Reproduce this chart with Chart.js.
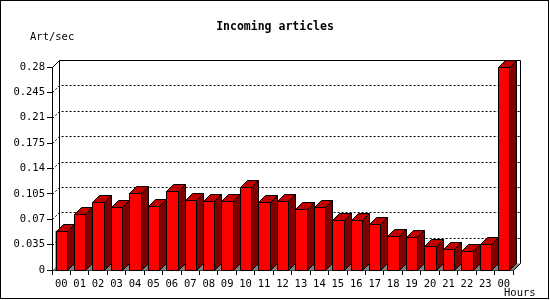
<!DOCTYPE html>
<html>
<head>
<meta charset="utf-8">
<style>
  html, body { margin: 0; padding: 0; background: #fff; }
  canvas { display: block; }
</style>
<script src="https://cdn.jsdelivr.net/npm/chart.js@4/dist/chart.umd.min.js"></script>
</head>
<body>
<canvas id="c" width="550" height="300"></canvas>
<script>
const hours = ['00','01','02','03','04','05','06','07','08','09','10','11','12','13','14','15','16','17','18','19','20','21','22','23','00'];
const artPerSec = [0.054, 0.077, 0.094, 0.087, 0.106, 0.088, 0.109, 0.0965, 0.095, 0.095, 0.1145, 0.094, 0.095, 0.084, 0.087, 0.069, 0.069, 0.0635, 0.047, 0.0455, 0.033, 0.029, 0.026, 0.036, 0.28];
const yTicks = [0, 0.035, 0.07, 0.105, 0.14, 0.175, 0.21, 0.245, 0.28];
const yTickLabels = ['0', '0.035', '0.07', '0.105', '0.14', '0.175', '0.21', '0.245', '0.28'];
const titleText = 'Incoming articles';
const yUnitText = 'Art/sec';
const xUnitText = 'Hours';

const DEPTH = 7;
const MONO = '"DejaVu Sans Mono", "Liberation Mono", monospace';

const threeD = {
  id: 'threeD',
  beforeDraw(chart) {
    const ctx = chart.ctx;
    ctx.save();
    ctx.fillStyle = '#ffffff';
    ctx.fillRect(0, 0, chart.width, chart.height);
    ctx.restore();
  },
  beforeDatasetsDraw(chart) {
    const ctx = chart.ctx;
    const a = chart.chartArea;
    const ys = chart.scales.y;
    const L = Math.round(a.left) + 0.5, R = Math.round(a.right) + 0.5;
    const T = Math.round(a.top) + 0.5, B = Math.round(a.bottom) + 0.5;
    const d = DEPTH;
    ctx.save();
    ctx.fillStyle = '#808080';
    ctx.beginPath();
    ctx.moveTo(L, B); ctx.lineTo(L + d, B - d); ctx.lineTo(R + d, B - d); ctx.lineTo(R, B);
    ctx.closePath(); ctx.fill();
    ctx.strokeStyle = '#000';
    ctx.lineWidth = 1;
    ctx.setLineDash([2, 2]);
    yTicks.forEach(v => {
      if (v === yTicks[0] || v === yTicks[yTicks.length - 1]) return;
      const y = Math.round(ys.getPixelForValue(v)) + 0.5;
      ctx.beginPath();
      ctx.moveTo(L, y); ctx.lineTo(L + d, y - d); ctx.lineTo(R + d, y - d);
      ctx.stroke();
    });
    ctx.setLineDash([]);
    ctx.beginPath();
    ctx.moveTo(L, T); ctx.lineTo(L + d, T - d); ctx.lineTo(R + d, T - d); ctx.lineTo(R + d, B - d); ctx.lineTo(R, B);
    ctx.moveTo(L + d, T - d); ctx.lineTo(L + d, B - d);
    ctx.stroke();
    ctx.restore();
  },
  afterDatasetsDraw(chart) {
    const ctx = chart.ctx;
    const meta = chart.getDatasetMeta(0);
    const d = DEPTH;
    ctx.save();
    ctx.strokeStyle = '#000';
    ctx.lineWidth = 1;
    meta.data.forEach(el => {
      const p = el.getProps(['x', 'y', 'base', 'width'], true);
      const l = Math.round(p.x - p.width / 2) + 0.5;
      const r = Math.round(p.x + p.width / 2) + 0.5;
      const t = Math.round(p.y) + 0.5;
      const b = Math.round(p.base) + 0.5;
      // front face
      ctx.fillStyle = '#ff0000';
      ctx.beginPath();
      ctx.rect(l, t, r - l, b - t);
      ctx.fill(); ctx.stroke();
      // top face
      ctx.fillStyle = '#c00000';
      ctx.beginPath();
      ctx.moveTo(l, t); ctx.lineTo(l + d, t - d); ctx.lineTo(r + d, t - d); ctx.lineTo(r, t);
      ctx.closePath(); ctx.fill(); ctx.stroke();
      // side face
      ctx.fillStyle = '#800000';
      ctx.beginPath();
      ctx.moveTo(r, t); ctx.lineTo(r + d, t - d); ctx.lineTo(r + d, b - d); ctx.lineTo(r, b);
      ctx.closePath(); ctx.fill(); ctx.stroke();
    });
    ctx.restore();
  },
  afterDraw(chart) {
    const ctx = chart.ctx;
    ctx.save();
    ctx.fillStyle = '#000';
    ctx.textBaseline = 'middle';
    ctx.font = 'bold 11.5px ' + MONO;
    ctx.textAlign = 'center';
    ctx.fillText(titleText, 275, 27);
    ctx.font = '10.5px ' + MONO;
    ctx.textAlign = 'left';
    ctx.fillText(yUnitText, 30, 37);
    ctx.fillText(xUnitText, 504, 293);
    ctx.strokeStyle = '#000';
    ctx.lineWidth = 1;
    ctx.strokeRect(0.5, 0.5, 548, 298);
    ctx.restore();
  }
};

new Chart(document.getElementById('c'), {
  type: 'bar',
  data: {
    labels: hours,
    datasets: [{
      data: artPerSec,
      backgroundColor: '#ff0000',
      borderWidth: 0,
      barPercentage: 0.62,
      categoryPercentage: 1.0
    }]
  },
  options: {
    responsive: false,
    animation: false,
    events: [],
    layout: { padding: { top: 67, right: 37, left: 0, bottom: 0 } },
    plugins: { legend: { display: false }, tooltip: { enabled: false }, title: { display: false } },
    scales: {
      x: {
        type: 'category',
        offset: true,
        grid: { offset: true, drawOnChartArea: false, tickLength: 5, color: '#000', lineWidth: 1 },
        border: { display: true, color: '#000', width: 1 },
        ticks: { color: '#000', font: { family: MONO, size: 10.5 }, maxRotation: 0, autoSkip: false, padding: 3 },
        afterFit(scale) { scale.height = 30; }
      },
      y: {
        min: 0,
        max: 0.28,
        grid: { drawOnChartArea: false, tickLength: 5, color: '#000', lineWidth: 1 },
        border: { display: true, color: '#000', width: 1 },
        ticks: {
          color: '#000', font: { family: MONO, size: 10.5 }, padding: 2,
          callback: (v, i) => yTickLabels[i]
        },
        afterBuildTicks(scale) { scale.ticks = yTicks.map(v => ({ value: v })); },
        afterFit(scale) { scale.width = 52; }
      }
    }
  },
  plugins: [threeD]
});
</script>
</body>
</html>
